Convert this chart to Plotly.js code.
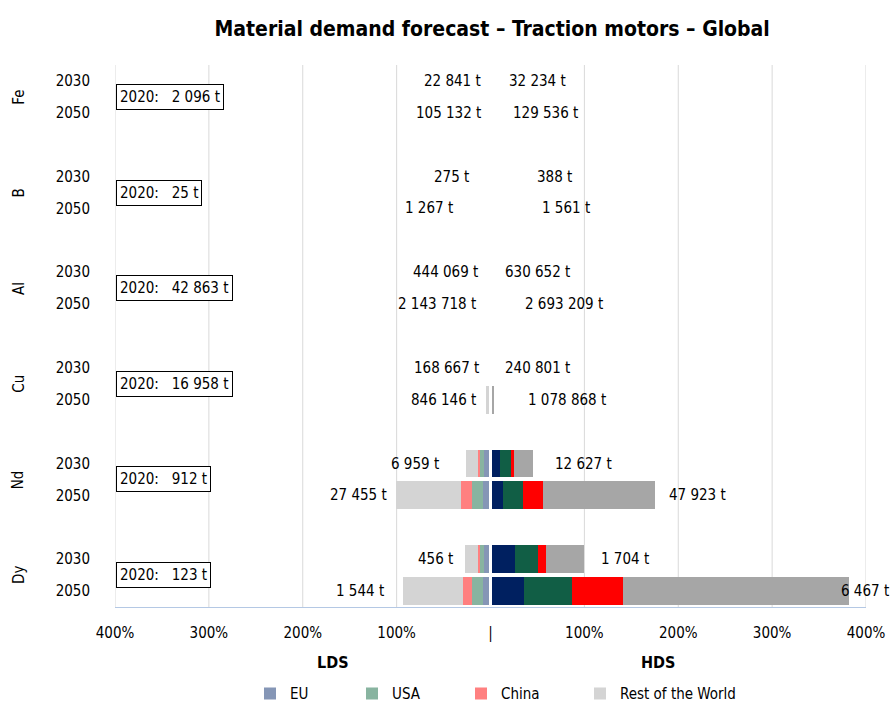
<!DOCTYPE html>
<html>
<head>
<meta charset="utf-8">
<script src="https://cdn.plot.ly/plotly-3.0.1.min.js"></script>
<style>html,body{margin:0;padding:0;background:#fff;}#chart{width:890px;height:709px;}</style>
</head>
<body>
<div id="chart"></div>
<script>
// ---- data ----
var elements = ['Fe', 'B', 'Al', 'Cu', 'Nd', 'Dy'];
var years = ['2030', '2050'];
var base2020 = ['2 096 t', '25 t', '42 863 t', '16 958 t', '912 t', '123 t'];
// rows: Fe2030, Fe2050, B2030, B2050, Al2030, Al2050, Cu2030, Cu2050, Nd2030, Nd2050, Dy2030, Dy2050
// shares (%) - LDS scenario
var ldsEU    = [0, 0, 0, 0, 0, 0, 0.2, 1.0, 6.4, 8.5, 6.4, 7.5];
var ldsUSA   = [0, 0, 0, 0, 0, 0, 0.1, 0.5, 5.3, 11.7, 5.3, 11.7];
var ldsChina = [0, 0, 0, 0, 0, 0, 0.1, 0.3, 2.1, 11.7, 2.1, 9.6];
var ldsRoW   = [0, 0, 0, 0, 0, 0, 0.4, 2.7, 12.8, 69.2, 13.8, 63.9];
// shares (%) - HDS scenario
var hdsEU    = [0, 0, 0, 0, 0, 0, 0.3, 0.8, 9.6, 13.8, 26.6, 36.2];
var hdsUSA   = [0, 0, 0, 0, 0, 0, 0.2, 0.5, 11.7, 21.3, 24.5, 51.1];
var hdsChina = [0, 0, 0, 0, 0, 0, 0.1, 0.2, 3.2, 21.3, 7.5, 54.3];
var hdsRoW   = [0, 0, 0, 0, 0, 0, 0.5, 2.0, 21.3, 119.3, 41.5, 240.7];
// total tonnes labels
var ldsLabels = ['22 841 t', '105 132 t', '275 t', '1 267 t', '444 069 t', '2 143 718 t', '168 667 t', '846 146 t', '6 959 t', '27 455 t', '456 t', '1 544 t'];
var hdsLabels = ['32 234 t', '129 536 t', '388 t', '1 561 t', '630 652 t', '2 693 209 t', '240 801 t', '1 078 868 t', '12 627 t', '47 923 t', '1 704 t', '6 467 t'];
var xTickVals = [-400, -300, -200, -100, 0, 100, 200, 300, 400];
var xTickText = ['400%', '300%', '200%', '100%', '|', '100%', '200%', '300%', '400%'];
var legendNames = ['EU', 'USA', 'China', 'Rest of the World'];

// ---- label placement (style, in axis % units) ----
var ldsLabelX = [-7.5, -7.5, -21.3, -37.3, -11.7, -13.8, -10.6, -13.8, -53.2, -108.6, -37.3, -111.8];
var hdsLabelX = [18.1, 21.3, 47.9, 52.2, 12.8, 34.1, 13.8, 37.3, 67.1, 188.5, 116.1, 371.7];
var legendLeftPx = [250, 352, 461, 580];

var FONT = 'DejaVu Sans Condensed, Liberation Sans Narrow, Arial Narrow, sans-serif';

// row positions (slot index): group g -> 3g (2030), 3g+1 (2050)
var rowY = [], rowYears = [];
elements.forEach(function (e, g) {
  years.forEach(function (yr, k) { rowY.push(3 * g + k); rowYears.push(yr); });
});

var ldsColors = ['#8596b6', '#88b4a0', '#ff8080', '#d4d4d4'];
var hdsColors = ['#002060', '#115e45', '#ff0000', '#a6a6a6'];
var ldsSeries = [ldsEU, ldsUSA, ldsChina, ldsRoW];
var hdsSeries = [hdsEU, hdsUSA, hdsChina, hdsRoW];
var legendIds = ['legend', 'legend2', 'legend3', 'legend4'];

var traces = [];
ldsSeries.forEach(function (s, i) {
  traces.push({
    type: 'bar', orientation: 'h', name: legendNames[i],
    y: rowY, x: s.map(function (v) { return -v; }),
    width: 0.875, marker: { color: ldsColors[i], line: { width: 0 } },
    showlegend: true, legend: legendIds[i], hoverinfo: 'skip'
  });
});
hdsSeries.forEach(function (s, i) {
  traces.push({
    type: 'bar', orientation: 'h', name: legendNames[i] + ' (HDS)',
    y: rowY, x: s, width: 0.875,
    marker: { color: hdsColors[i], line: { width: 0 } },
    showlegend: false, hoverinfo: 'skip'
  });
});

var annotations = [];
rowY.forEach(function (y, r) {
  annotations.push({ x: ldsLabelX[r], y: y, xref: 'x', yref: 'y', text: ldsLabels[r], showarrow: false,
    xanchor: 'right', yanchor: 'middle', font: { family: FONT, size: 15, color: '#000' } });
  annotations.push({ x: hdsLabelX[r], y: y, xref: 'x', yref: 'y', text: hdsLabels[r], showarrow: false,
    xanchor: 'left', yanchor: 'middle', font: { family: FONT, size: 15, color: '#000' } });
});
elements.forEach(function (e, g) {
  annotations.push({ x: -0.128, xref: 'paper', y: 3 * g + 0.5, yref: 'y', text: e, showarrow: false,
    textangle: -90, xanchor: 'center', yanchor: 'middle', font: { family: FONT, size: 15, color: '#000' } });
  annotations.push({ x: -398.5, xref: 'x', y: 3 * g + 0.5, yref: 'y',
    text: '2020:\u00A0\u00A0\u00A0' + base2020[g], showarrow: false,
    xanchor: 'left', yanchor: 'middle', bordercolor: '#000', borderwidth: 1, borderpad: 3, bgcolor: '#fff',
    font: { family: FONT, size: 15, color: '#000' } });
});
annotations.push({ x: -168, xref: 'x', y: -0.103, yref: 'paper', text: '<b>LDS</b>', showarrow: false,
  xanchor: 'center', yanchor: 'middle', font: { family: FONT, size: 16, color: '#000' } });
annotations.push({ x: 178, xref: 'x', y: -0.103, yref: 'paper', text: '<b>HDS</b>', showarrow: false,
  xanchor: 'center', yanchor: 'middle', font: { family: FONT, size: 16, color: '#000' } });

var shapes = [];
xTickVals.forEach(function (v) {
  if (v !== 0) shapes.push({ type: 'line', xref: 'x', yref: 'paper', x0: v, x1: v, y0: 0, y1: 1,
    line: { color: '#d9d9d9', width: 1 }, layer: 'below' });
});
shapes.push({ type: 'line', xref: 'x', yref: 'paper', x0: 0, x1: 0, y0: 0, y1: 1,
  line: { color: '#ffffff', width: 3 }, layer: 'above' });

var layout = {
  width: 890, height: 709,
  margin: { l: 115, r: 24, t: 65, b: 102, pad: 0, autoexpand: false },
  paper_bgcolor: '#fff', plot_bgcolor: '#fff',
  barmode: 'relative', bargap: 0,
  title: { text: '<b>Material demand forecast \u2013 Traction motors \u2013 Global</b>',
    x: 0.553, xanchor: 'center', y: 0.96, yanchor: 'middle', yref: 'container',
    font: { family: FONT, size: 21, color: '#000' } },
  xaxis: { range: [-400, 400], tickvals: xTickVals, ticktext: xTickText, showgrid: false, zeroline: false,
    showline: true, linecolor: '#b4c8e4', linewidth: 1, ticks: '', ticklabelstandoff: 12,
    tickfont: { family: FONT, size: 15, color: '#000' }, fixedrange: true },
  yaxis: { range: [16.5, -0.5], tickvals: rowY, ticktext: rowYears, showgrid: false, zeroline: false,
    showline: false, ticks: '', ticklabelstandoff: 24,
    tickfont: { family: FONT, size: 15, color: '#000' }, fixedrange: true },
  annotations: annotations,
  shapes: shapes,
  showlegend: true
};
legendIds.forEach(function (id, i) {
  layout[id] = { orientation: 'h', xref: 'container', yref: 'paper',
    x: legendLeftPx[i] / 890, xanchor: 'left', y: -0.16, yanchor: 'middle',
    bgcolor: 'rgba(0,0,0,0)', font: { family: FONT, size: 15, color: '#000' }, itemwidth: 30 };
});

Plotly.newPlot('chart', traces, layout, { displayModeBar: false, staticPlot: true });
</script>
</body>
</html>
